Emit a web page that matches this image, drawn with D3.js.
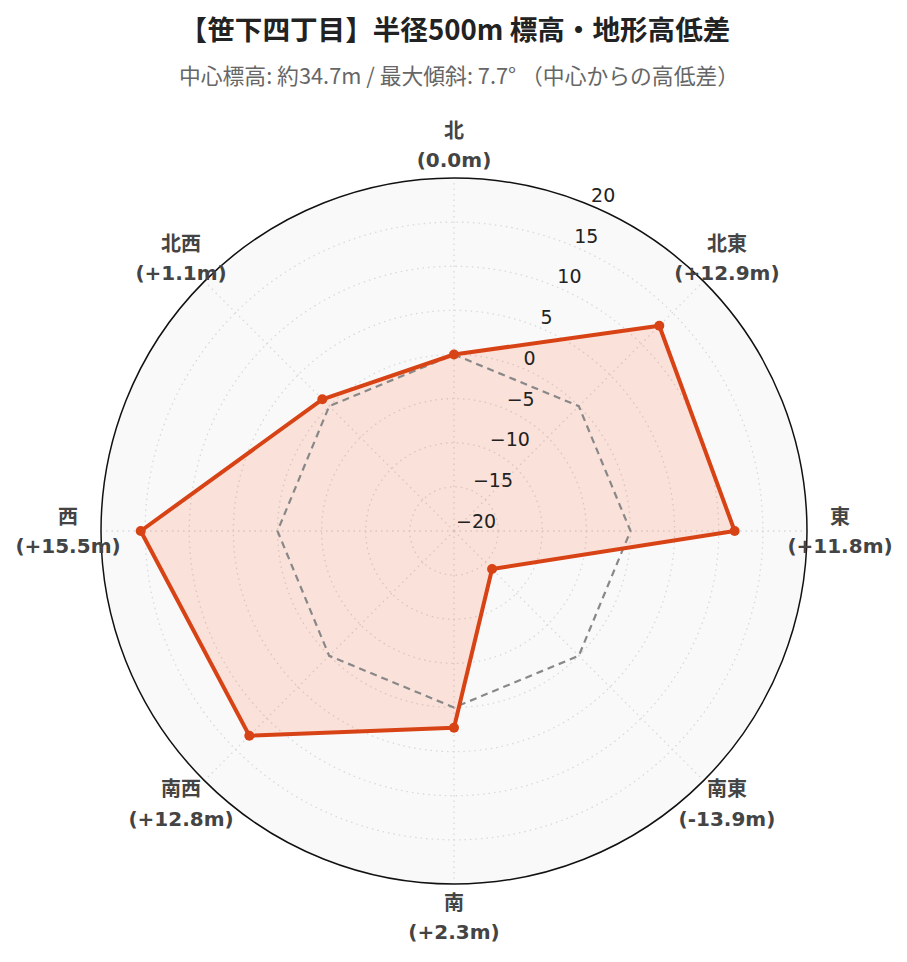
<!DOCTYPE html>
<html><head><meta charset="utf-8">
<script src="https://cdn.jsdelivr.net/npm/d3@7"></script>
<style>body{margin:0;background:#fff}</style>
</head><body><svg id="c" width="907" height="962"></svg>
<script>
const directions = ["北","北東","東","南東","南","南西","西","北西"];
const elevDiff = [0.0, 12.9, 11.8, -13.9, 2.3, 12.8, 15.5, 1.1];
const radialTicks = [-20,-15,-10,-5,0,5,10,15,20];
const radialRange = [-20, 20];
const referenceLevel = 0;
const titleText = "【笹下四丁目】半径500m 標高・地形高低差";
const subtitleText = "中心標高: 約34.7m / 最大傾斜: 7.7° （中心からの高低差）";

const W = 907, H = 962, cx = 454, cy = 531, R = 353;
const svg = d3.select("#c");
const latin = "'DejaVu Sans','Noto Sans CJK JP',sans-serif";
const cjk = "'Noto Sans CJK JP','DejaVu Sans',sans-serif";

svg.append("text").attr("x", 455).attr("y", 40).attr("text-anchor","middle")
  .attr("font-family", cjk).attr("font-weight","bold").attr("font-size",27.6).attr("fill","#222")
  .text(titleText);
svg.append("text").attr("x", 459).attr("y", 84).attr("text-anchor","middle")
  .attr("font-family", cjk).attr("font-size",21.8).attr("fill","#666")
  .text(subtitleText);

const r = d3.scaleLinear().domain(radialRange).range([0, R]);
const ang = d3.scalePoint().domain(directions).range([0, 2*Math.PI*(directions.length-1)/directions.length]);
const g = svg.append("g").attr("transform", `translate(${cx},${cy})`);

g.append("circle").attr("r", R).attr("fill", "#f9f9f9");
g.selectAll("circle.grid").data(radialTicks.filter(t => r(t) > 0.5 && r(t) < R - 0.5)).join("circle")
  .attr("class","grid").attr("r", d => r(d)).attr("fill","none")
  .attr("stroke","#d6d9dd").attr("stroke-width",1.3).attr("stroke-dasharray","1.5,4");
g.selectAll("line.ag").data(directions).join("line").attr("class","ag")
  .attr("x1",0).attr("y1",0)
  .attr("x2", d => R*Math.sin(ang(d))).attr("y2", d => -R*Math.cos(ang(d)))
  .attr("stroke","#d6d9dd").attr("stroke-width",1.3).attr("stroke-dasharray","1.5,4");

const radial = d3.lineRadial().angle(d => ang(d.dir)).radius(d => r(d.v)).curve(d3.curveLinearClosed);
const pts = directions.map((d,i) => ({dir:d, v:elevDiff[i]}));
const refPts = directions.map(d => ({dir:d, v:referenceLevel}));

g.append("path").attr("d", radial(pts)).attr("fill","rgba(255,87,34,0.15)").attr("stroke","none");
g.append("path").attr("d", radial(refPts)).attr("fill","none").attr("stroke","#888")
  .attr("stroke-width",2.2).attr("stroke-dasharray","7,5");
g.append("path").attr("d", radial(pts)).attr("fill","none").attr("stroke","#d84315")
  .attr("stroke-width",4).attr("stroke-linejoin","round");
g.selectAll("circle.pt").data(pts).join("circle").attr("class","pt")
  .attr("cx", d => r(d.v)*Math.sin(ang(d.dir))).attr("cy", d => -r(d.v)*Math.cos(ang(d.dir)))
  .attr("r", 5).attr("fill","#d84315");

g.append("circle").attr("r", R).attr("fill","none").attr("stroke","#111").attr("stroke-width",1.5);

const ta = Math.PI/8;
g.selectAll("text.rt").data(radialTicks).join("text").attr("class","rt")
  .attr("x", d => r(d)*Math.sin(ta) + 2).attr("y", d => -r(d)*Math.cos(ta) - 3)
  .attr("font-family", latin).attr("font-size",19).attr("fill","#222")
  .text(d => d < 0 ? "\u2212" + Math.abs(d) : String(d));

const fmt = v => "(" + (v > 0 ? "+" : "") + v.toFixed(1) + "m)";
const LR = 386;
const al = g.selectAll("g.al").data(pts).join("g").attr("class","al")
  .attr("transform", d => `translate(${LR*Math.sin(ang(d.dir))},${-LR*Math.cos(ang(d.dir))})`);
al.append("text").attr("y",-7.5).attr("text-anchor","middle").attr("font-family",latin)
  .attr("font-weight","bold").attr("font-size",20).attr("fill","#444").text(d => d.dir);
al.append("text").attr("y",22).attr("text-anchor","middle").attr("font-family",latin)
  .attr("font-weight","bold").attr("font-size",20).attr("fill","#444").text(d => fmt(d.v));
</script></body></html>
